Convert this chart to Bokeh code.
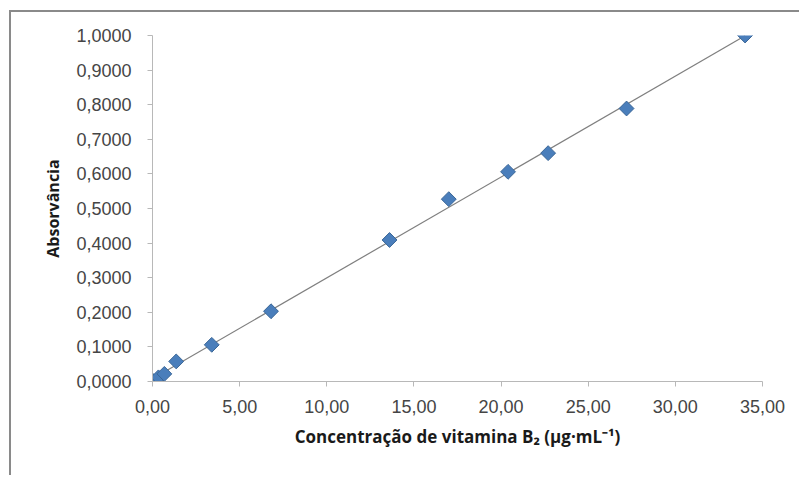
import numpy as np
from bokeh.plotting import figure
from bokeh.models import Range1d, FixedTicker
from bokeh.embed import file_html
from bokeh.resources import INLINE

# data
concentration = [0.0, 0.34, 0.68, 1.36, 3.40, 6.80, 13.60, 17.00, 20.40, 22.70, 27.20, 34.00]
absorbance = [0.003, 0.012, 0.022, 0.058, 0.106, 0.203, 0.409, 0.527, 0.606, 0.660, 0.789, 1.000]

x_ticks = [0, 5, 10, 15, 20, 25, 30, 35]
x_tick_labels = ["0,00", "5,00", "10,00", "15,00", "20,00", "25,00", "30,00", "35,00"]
y_ticks = [0.0, 0.1, 0.2, 0.3, 0.4, 0.5, 0.6, 0.7, 0.8, 0.9, 1.0]
y_tick_labels = ["0,0000", "0,1000", "0,2000", "0,3000", "0,4000", "0,5000",
                 "0,6000", "0,7000", "0,8000", "0,9000", "1,0000"]

x_title = "Concentração de vitamina B₂ (μg·mL⁻¹)"
y_title = "Absorvância"

# linear trend line (least squares, as the spreadsheet's trendline)
slope, intercept = np.polyfit(concentration, absorbance, 1)
trend_x = [min(concentration), max(concentration)]
trend_y = [slope * v + intercept for v in trend_x]

p = figure(width=790, height=465, output_backend="svg", toolbar_location=None,
           x_range=Range1d(0, 35), y_range=Range1d(0, 1.0),
           min_border_left=141, min_border_right=39, min_border_top=23, min_border_bottom=96)
p.styles = {"border-top": "2px solid #8a8a8a", "border-left": "2px solid #8a8a8a",
            "margin-left": "9px", "margin-top": "10px"}

p.grid.visible = False
p.outline_line_color = None
p.background_fill_color = "white"
p.border_fill_color = "white"

p.line(trend_x, trend_y, line_color="#7f7f7f", line_width=1.2)
p.scatter(concentration, absorbance, marker="square", angle=np.pi / 4, size=10.5,
          fill_color="#4A7EBB", line_color="#3A6697", line_width=1)

tick_font = "Liberation Sans"
title_font = "Open Sans"
for ax in (p.xaxis[0], p.yaxis[0]):
    ax.axis_line_color = "#b8b8b8"
    ax.major_tick_line_color = "#b8b8b8"
    ax.minor_tick_line_color = None
    ax.major_tick_in = 0
    ax.major_tick_out = 5
    ax.major_label_text_font = tick_font
    ax.major_label_text_font_size = "18px"
    ax.major_label_text_color = "#454545"
    ax.axis_label_text_font = title_font
    ax.axis_label_text_font_style = "bold"
    ax.axis_label_text_color = "#1a1a1a"

p.xaxis.axis_label_text_font_size = "17px"
p.yaxis.axis_label_text_font_size = "16px"

p.xaxis.ticker = FixedTicker(ticks=x_ticks)
p.xaxis.major_label_overrides = dict(zip(x_ticks, x_tick_labels))
p.xaxis.axis_label = x_title
p.xaxis.major_label_standoff = 13
p.xaxis.axis_label_standoff = 9

p.yaxis.ticker = FixedTicker(ticks=y_ticks)
p.yaxis.major_label_overrides = dict(zip(y_ticks, y_tick_labels))
p.yaxis.axis_label = y_title
p.yaxis.major_label_standoff = 16
p.yaxis.axis_label_standoff = 9

open("out.html", "w").write(file_html(p, INLINE))
